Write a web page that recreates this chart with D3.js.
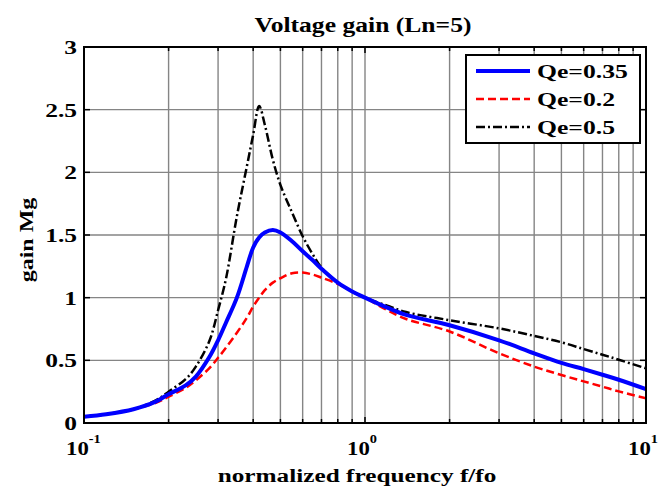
<!DOCTYPE html>
<html><head><meta charset="utf-8">
<script src="https://cdn.jsdelivr.net/npm/d3@7"></script>
<style>
body{margin:0;background:#fff;}
text{font-family:"Liberation Serif","Times New Roman",serif;font-weight:bold;fill:#000;}
</style>
</head><body>
<svg id="chart" width="660" height="487"></svg>
<script>
// ---- data ----
const freq      = [0.1, 0.12, 0.15, 0.18, 0.2, 0.23, 0.25, 0.28, 0.3, 0.32, 0.35, 0.38, 0.4, 0.42, 0.44, 0.47, 0.5, 0.55, 0.6, 0.65, 0.7, 0.8, 0.9, 1, 1.2, 1.4, 2, 3, 4, 5, 6, 7, 8, 10];
const gainQe035 = [0.05, 0.07, 0.11, 0.17, 0.23, 0.30, 0.37, 0.53, 0.66, 0.80, 1.00, 1.25, 1.40, 1.48, 1.52, 1.54, 1.52, 1.45, 1.37, 1.30, 1.23, 1.12, 1.05, 1.00, 0.92, 0.862, 0.78, 0.66, 0.556, 0.48, 0.43, 0.385, 0.345, 0.27];
const gainQe02  = [0.05, 0.07, 0.11, 0.16, 0.21, 0.28, 0.34, 0.44, 0.52, 0.60, 0.72, 0.84, 0.93, 1.00, 1.06, 1.12, 1.155, 1.195, 1.20, 1.185, 1.16, 1.11, 1.05, 1.00, 0.90, 0.83, 0.73, 0.556, 0.45, 0.383, 0.332, 0.29, 0.252, 0.197];
const gainQe05  = [0.05, 0.07, 0.11, 0.18, 0.25, 0.35, 0.45, 0.66, 0.90, 1.15, 1.65, 2.05, 2.30, 2.53, 2.38, 2.10, 1.90, 1.68, 1.49, 1.35, 1.24, 1.12, 1.05, 1.00, 0.936, 0.885, 0.82, 0.755, 0.695, 0.644, 0.59, 0.545, 0.505, 0.436];
const seriesNames  = ["Qe=0.35", "Qe=0.2", "Qe=0.5"];
const yTicks       = [0, 0.5, 1, 1.5, 2, 2.5, 3];
const yTickLabels  = ["0", "0.5", "1", "1.5", "2", "2.5", "3"];
const xMajor       = [0.1, 1, 10];
const xMajorBase   = ["10", "10", "10"];
const xMajorExp    = ["-1", "0", "1"];
const xMinor       = [0.2, 0.3, 0.4, 0.5, 0.6, 0.7, 0.8, 0.9, 2, 3, 4, 5, 6, 7, 8, 9];
const titleText    = "Voltage gain (Ln=5)";
const xLabelText   = "normalized frequency f/fo";
const yLabelText   = "gain Mg";

// ---- layout ----
const L = 84, R = 646, T = 47, B = 423;
const svg = d3.select("#chart");
const x = d3.scaleLog().domain([0.1, 10]).range([L, R]);
const y = d3.scaleLinear().domain([0, 3]).range([B, T]);
const SX = 1.34;

function stretchText(g, px, py, str, size, anchor, sx) {
  return g.append("text")
    .attr("transform", `translate(${px},${py}) scale(${sx},1)`)
    .attr("text-anchor", anchor)
    .style("font-size", size + "px")
    .text(str);
}

svg.append("rect").attr("width", 660).attr("height", 487).attr("fill", "#fff");

// grid
const grid = svg.append("g").attr("stroke", "#858585").attr("stroke-width", 1.4);
xMajor.concat(xMinor).forEach(v => {
  grid.append("line").attr("x1", x(v)).attr("x2", x(v)).attr("y1", T).attr("y2", B);
});
yTicks.forEach(v => {
  grid.append("line").attr("x1", L).attr("x2", R).attr("y1", y(v)).attr("y2", y(v));
});

// curves
const series = [
  {name: seriesNames[0], vals: gainQe035, color: "#0000ff", w: 4, dash: null},
  {name: seriesNames[1], vals: gainQe02,  color: "#ff0000", w: 2.5, dash: "8,4"},
  {name: seriesNames[2], vals: gainQe05,  color: "#000000", w: 2.5, dash: "9,3,2,3"}
];
svg.append("clipPath").attr("id", "clip").append("rect")
  .attr("x", L).attr("y", T).attr("width", R - L).attr("height", B - T);
const line = d3.line().x(d => x(d[0])).y(d => y(d[1])).curve(d3.curveCatmullRom.alpha(0.5));
const curves = svg.append("g").attr("clip-path", "url(#clip)");
[series[2], series[1], series[0]].forEach(s => {
  curves.append("path")
    .datum(freq.map((f, i) => [f, s.vals[i]]))
    .attr("d", line)
    .attr("fill", "none")
    .attr("stroke", s.color)
    .attr("stroke-width", s.w)
    .attr("stroke-dasharray", s.dash)
    .attr("stroke-linejoin", "round");
});

// axes (box + inward ticks)
const ax = svg.append("g").attr("stroke", "#000");
ax.append("rect").attr("x", L).attr("y", T).attr("width", R - L).attr("height", B - T)
  .attr("fill", "none").attr("stroke-width", 2);
xMajor.concat(xMinor).forEach((v, i) => {
  const len = i < xMajor.length ? 6 : 4;
  ax.append("line").attr("x1", x(v)).attr("x2", x(v)).attr("y1", B).attr("y2", B - len).attr("stroke-width", 1.5);
  ax.append("line").attr("x1", x(v)).attr("x2", x(v)).attr("y1", T).attr("y2", T + len).attr("stroke-width", 1.5);
});
yTicks.forEach(v => {
  ax.append("line").attr("x1", L).attr("x2", L + 6).attr("y1", y(v)).attr("y2", y(v)).attr("stroke-width", 1.5);
  ax.append("line").attr("x1", R).attr("x2", R - 6).attr("y1", y(v)).attr("y2", y(v)).attr("stroke-width", 1.5);
});

// tick labels
const lab = svg.append("g");
yTicks.forEach((v, i) => {
  stretchText(lab, 77, y(v) + 7, yTickLabels[i], 19, "end", SX);
});
xMajor.forEach((v, i) => {
  const t = lab.append("text")
    .attr("transform", `translate(${x(v) - 18},455) scale(1.2,1)`)
    .attr("text-anchor", "start")
    .style("font-size", "19px");
  t.append("tspan").text(xMajorBase[i]);
  t.append("tspan").attr("dy", -12).style("font-size", "12px").text(xMajorExp[i]);
});

// title and axis labels
stretchText(svg, 363, 32, titleText, 20, "middle", 1.28);
stretchText(svg, 357, 482, xLabelText, 19, "middle", 1.33);
svg.append("text")
  .attr("transform", `translate(33,240) rotate(-90) scale(1.26,1)`)
  .attr("text-anchor", "middle")
  .style("font-size", "19px")
  .text(yLabelText);

// legend
const lg = svg.append("g");
lg.append("rect").attr("x", 466).attr("y", 55).attr("width", 174).attr("height", 88)
  .attr("fill", "#fff").attr("stroke", "#000").attr("stroke-width", 2);
series.forEach((s, i) => {
  const ry = 71 + i * 28;
  lg.append("line").attr("x1", 476).attr("x2", 530).attr("y1", ry).attr("y2", ry)
    .attr("stroke", s.color).attr("stroke-width", s.w).attr("stroke-dasharray", s.dash);
  stretchText(lg, 537, ry + 7, s.name, 19, "start", 1.35);
});
</script>
</body></html>
